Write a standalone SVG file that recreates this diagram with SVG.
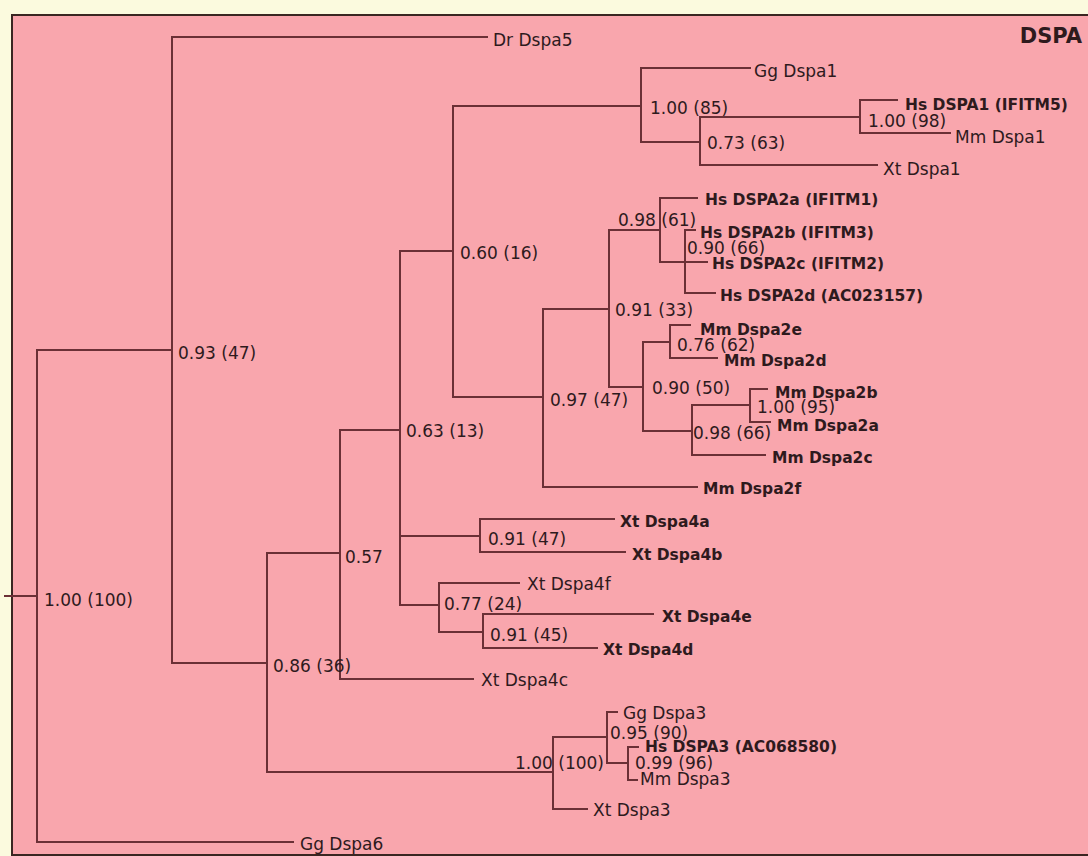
<svg xmlns="http://www.w3.org/2000/svg" width="1088" height="856" viewBox="0 0 1088 856">
<style>
.bg{fill:#fbfade}
.panel{fill:#f9a6ad;stroke:#3a2622;stroke-width:2}
.e{fill:none;stroke:#6b3036;stroke-width:2;stroke-linecap:square}
text{font-family:"DejaVu Sans","Liberation Sans",sans-serif;fill:#2e1a1d}
.lf{font-size:17px}
.lb{font-size:15.5px;font-weight:bold}
.sp{font-size:17px}
.ti{font-size:21px;font-weight:bold}
</style>
<rect class="bg" x="0" y="0" width="1088" height="856"/>
<rect class="panel" x="12" y="15" width="1082" height="840"/>
<g id="connectors">
<path class="e" d="M5 596H37M37 350V842M37 350H172M37 842H293"/>
<path class="e" d="M172 37V663M172 37H487M172 663H267"/>
<path class="e" d="M267 553V772M267 553H340M267 772H553"/>
<path class="e" d="M340 430V679M340 430H400M340 679H473"/>
<path class="e" d="M400 251V605M400 251H453M400 536H480M400 605H439"/>
<path class="e" d="M453 106V397M453 106H641M453 397H543"/>
<path class="e" d="M641 68V142M641 68H750M641 142H700"/>
<path class="e" d="M700 117V165M700 117H860M700 165H877"/>
<path class="e" d="M860 100V133M860 100H897M860 133H950"/>
<path class="e" d="M543 309V487M543 309H609M543 487H697"/>
<path class="e" d="M609 230V387M609 230H660M609 387H643"/>
<path class="e" d="M660 198V262M660 198H697M660 262H707"/>
<path class="e" d="M685 230V293M685 230H695M685 293H715"/>
<path class="e" d="M643 342V431M643 342H670M643 431H692"/>
<path class="e" d="M670 325V358M670 325H690M670 358H717"/>
<path class="e" d="M692 405V455M692 405H750M692 455H765"/>
<path class="e" d="M750 389V422M750 389H767M750 422H770"/>
<path class="e" d="M480 519V552M480 519H614M480 552H625"/>
<path class="e" d="M439 583V632M439 583H519M439 632H483"/>
<path class="e" d="M483 614V648M483 614H653M483 648H597"/>
<path class="e" d="M553 737V809M553 737H607M553 809H587"/>
<path class="e" d="M607 712V763M607 712H617M607 763H628"/>
<path class="e" d="M628 747V780M628 747H638M628 780H637"/>
</g>
<g id="title"><text class="ti" x="1082" y="43" text-anchor="end">DSPA</text></g>
<g id="n-root"><text class="sp" x="44" y="606">1.00 (100)</text></g>
<g id="n-093"><text class="sp" x="178" y="359">0.93 (47)</text></g>
<g id="n-086"><text class="sp" x="273" y="672">0.86 (36)</text></g>
<g id="n-057"><text class="sp" x="345" y="563">0.57</text></g>
<g id="n-063"><text class="sp" x="406" y="437">0.63 (13)</text></g>
<g id="n-060"><text class="sp" x="460" y="259">0.60 (16)</text></g>
<g id="n-100-85"><text class="sp" x="650" y="114">1.00 (85)</text></g>
<g id="n-073"><text class="sp" x="707" y="149">0.73 (63)</text></g>
<g id="n-100-98"><text class="sp" x="868" y="127">1.00 (98)</text></g>
<g id="n-098-61"><text class="sp" x="618" y="226">0.98 (61)</text></g>
<g id="n-090-66"><text class="sp" x="687" y="254">0.90 (66)</text></g>
<g id="n-091-33"><text class="sp" x="615" y="316">0.91 (33)</text></g>
<g id="n-097"><text class="sp" x="550" y="406">0.97 (47)</text></g>
<g id="n-076"><text class="sp" x="677" y="351">0.76 (62)</text></g>
<g id="n-090-50"><text class="sp" x="652" y="394">0.90 (50)</text></g>
<g id="n-100-95"><text class="sp" x="757" y="413">1.00 (95)</text></g>
<g id="n-098-66"><text class="sp" x="693" y="439">0.98 (66)</text></g>
<g id="n-091-47"><text class="sp" x="488" y="545">0.91 (47)</text></g>
<g id="n-077"><text class="sp" x="444" y="610">0.77 (24)</text></g>
<g id="n-091-45"><text class="sp" x="490" y="641">0.91 (45)</text></g>
<g id="n-100-100b"><text class="sp" x="515" y="769">1.00 (100)</text></g>
<g id="n-095"><text class="sp" x="610" y="739">0.95 (90)</text></g>
<g id="n-099"><text class="sp" x="635" y="769">0.99 (96)</text></g>
<g id="leaf-dr-dspa5"><text class="lf" x="493" y="46">Dr Dspa5</text></g>
<g id="leaf-gg-dspa1"><text class="lf" x="754" y="77">Gg Dspa1</text></g>
<g id="leaf-hs-dspa1"><text class="lb" x="905" y="110">Hs DSPA1 (IFITM5)</text></g>
<g id="leaf-mm-dspa1"><text class="lf" x="955" y="143">Mm Dspa1</text></g>
<g id="leaf-xt-dspa1"><text class="lf" x="883" y="175">Xt Dspa1</text></g>
<g id="leaf-hs-dspa2a"><text class="lb" x="705" y="205">Hs DSPA2a (IFITM1)</text></g>
<g id="leaf-hs-dspa2b"><text class="lb" x="700" y="238">Hs DSPA2b (IFITM3)</text></g>
<g id="leaf-hs-dspa2c"><text class="lb" x="712" y="269">Hs DSPA2c (IFITM2)</text></g>
<g id="leaf-hs-dspa2d"><text class="lb" x="720" y="301">Hs DSPA2d (AC023157)</text></g>
<g id="leaf-mm-dspa2e"><text class="lb" x="700" y="335">Mm Dspa2e</text></g>
<g id="leaf-mm-dspa2d"><text class="lb" x="724" y="366">Mm Dspa2d</text></g>
<g id="leaf-mm-dspa2b"><text class="lb" x="775" y="398">Mm Dspa2b</text></g>
<g id="leaf-mm-dspa2a"><text class="lb" x="777" y="431">Mm Dspa2a</text></g>
<g id="leaf-mm-dspa2c"><text class="lb" x="772" y="463">Mm Dspa2c</text></g>
<g id="leaf-mm-dspa2f"><text class="lb" x="703" y="494">Mm Dspa2f</text></g>
<g id="leaf-xt-dspa4a"><text class="lb" x="620" y="527">Xt Dspa4a</text></g>
<g id="leaf-xt-dspa4b"><text class="lb" x="632" y="560">Xt Dspa4b</text></g>
<g id="leaf-xt-dspa4f"><text class="lf" x="527" y="590">Xt Dspa4f</text></g>
<g id="leaf-xt-dspa4e"><text class="lb" x="662" y="622">Xt Dspa4e</text></g>
<g id="leaf-xt-dspa4d"><text class="lb" x="603" y="655">Xt Dspa4d</text></g>
<g id="leaf-xt-dspa4c"><text class="lf" x="481" y="686">Xt Dspa4c</text></g>
<g id="leaf-gg-dspa3"><text class="lf" x="623" y="719">Gg Dspa3</text></g>
<g id="leaf-hs-dspa3"><text class="lb" x="645" y="752">Hs DSPA3 (AC068580)</text></g>
<g id="leaf-mm-dspa3"><text class="lf" x="640" y="785">Mm Dspa3</text></g>
<g id="leaf-xt-dspa3"><text class="lf" x="593" y="816">Xt Dspa3</text></g>
<g id="leaf-gg-dspa6"><text class="lf" x="300" y="850">Gg Dspa6</text></g>
</svg>
